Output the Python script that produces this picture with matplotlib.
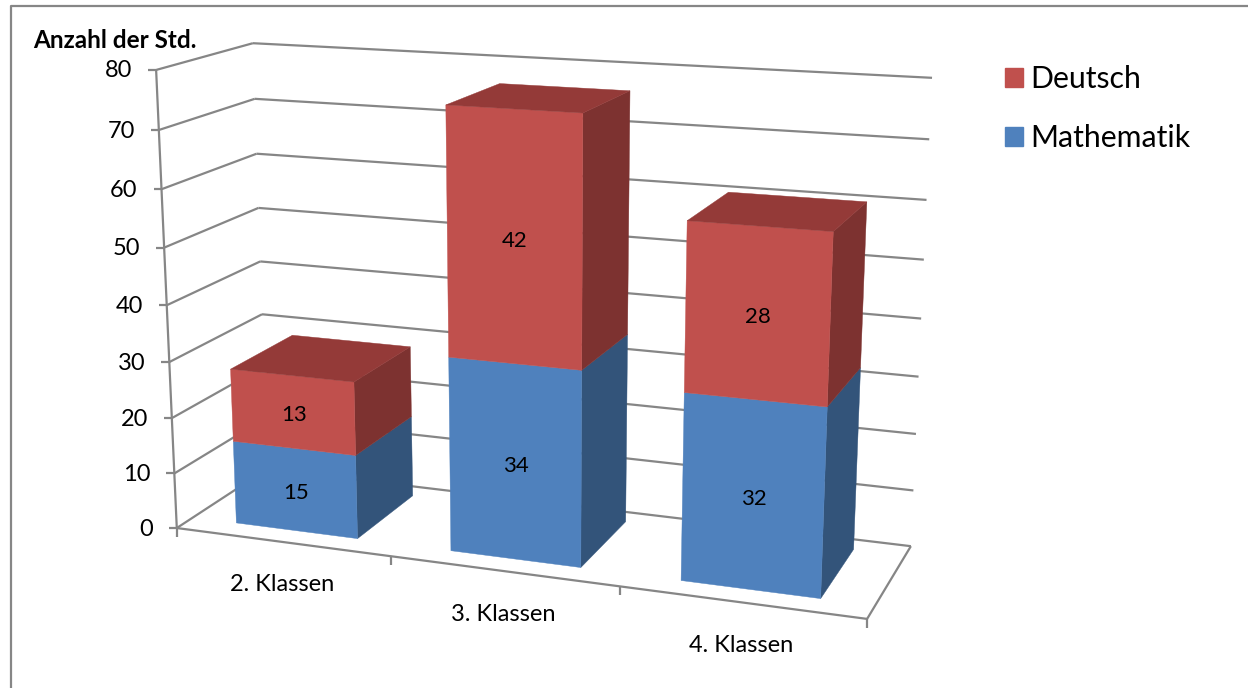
import numpy as np
import matplotlib
matplotlib.use("Agg")
import matplotlib.pyplot as plt
from matplotlib.patches import Polygon, Patch

plt.rcParams['font.family'] = ['Lato', 'DejaVu Sans']

categories = ["2. Klassen", "3. Klassen", "4. Klassen"]
mathematik = [15, 34, 32]
deutsch = [13, 42, 28]
y_ticks = [0, 10, 20, 30, 40, 50, 60, 70, 80]
y_max = 80

BLUE, BLUE_SIDE = "#4F81BD", "#33547A"
RED, RED_SIDE, RED_TOP = "#C0504D", "#7D3230", "#943A38"
GRID = "#868686"

# where the corners of the 3d box land on the picture (u, v, z) -> pixel
box_3d = [(0, 0, 0), (1, 0, 0), (1, 1, 0), (0, 1, 0), (0, 0, 1), (0, 1, 1), (1, 1, 1)]
box_px = [(177, 527), (867, 620), (911, 545), (267, 470), (156, 70), (253, 43), (932, 78)]


def fit_camera():
    rows, rhs = [], []
    for (u, v, z), (px, py) in zip(box_3d, box_px):
        rows.append([u, v, z, 1, 0, 0, 0, 0, -px*u, -px*v, -px*z])
        rows.append([0, 0, 0, 0, u, v, z, 1, -py*u, -py*v, -py*z])
        rhs += [px, py]
    m = np.linalg.lstsq(np.array(rows, float), np.array(rhs, float), rcond=None)[0]
    return np.append(m, 1).reshape(3, 4)


P = fit_camera()


def proj(u, v, val):
    p = P @ np.array([u, v, val / y_max, 1.0])
    return p[0] / p[2], p[1] / p[2]


fig = plt.figure(figsize=(12.48, 6.88), dpi=100)
ax = fig.add_axes([0, 0, 1, 1])
ax.set_xlim(0, 1248)
ax.set_ylim(688, 0)
ax.axis("off")

# outer frame, only left and top are inside the picture
ax.plot([11, 11, 1248], [688, 6, 6], color=GRID, lw=1.6)


def line(a, b):
    ax.plot([a[0], b[0]], [a[1], b[1]], color=GRID, lw=1.6, solid_capstyle="butt")


# walls
for t in y_ticks:
    line(proj(0, 0, t), proj(0, 1, t))
    line(proj(0, 1, t), proj(1, 1, t))
    f = proj(0, 0, t)
    line((f[0] - 8, f[1]), f)
    ax.text(f[0] - 24, f[1] + 1, str(t), ha="right", va="center", fontsize=17, color="black")
line(proj(0, 0, 0), proj(0, 0, y_max))
line(proj(0, 0, 0), proj(1, 0, 0))
line(proj(1, 0, 0), proj(1, 1, 0))

# category ticks and labels
n = len(categories)
for i in range(n + 1):
    f = proj(i / n, 0, 0)
    line(f, (f[0], f[1] + 9))
for i, c in enumerate(categories):
    f = proj((i + 0.5) / n, 0, 0)
    ax.text(f[0], f[1] + 43, c, ha="center", va="center", fontsize=17, color="black")


def face(pts, color):
    ax.add_patch(Polygon(pts, closed=True, facecolor=color, edgecolor=color, lw=0.3, zorder=3))


# stacked bars
left, right = 0.21, 0.783
v0, v1 = 0.17, 0.86
for i in range(n):
    u0 = (i + left) / n
    u1 = (i + right) / n
    base = 0
    for val, col, side in ((mathematik[i], BLUE, BLUE_SIDE), (deutsch[i], RED, RED_SIDE)):
        top = base + val
        face([proj(u1, v0, base), proj(u1, v1, base), proj(u1, v1, top), proj(u1, v0, top)], side)
        face([proj(u0, v0, base), proj(u1, v0, base), proj(u1, v0, top), proj(u0, v0, top)], col)
        c = proj((u0 + u1) / 2, v0, base + val / 2)
        ax.text(c[0] + 1, c[1] + 3, str(val), ha="center", va="center", fontsize=16, color="black", zorder=4)
        base = top
    face([proj(u0, v0, base), proj(u1, v0, base), proj(u1, v1, base), proj(u0, v1, base)], RED_TOP)

ax.text(33, 41, "Anzahl der Std.", ha="left", va="center", fontsize=17.5, fontweight="bold", color="black")

handles = [Patch(color=RED, label="Deutsch"), Patch(color=BLUE, label="Mathematik")]
ax.legend(handles=handles, loc="upper left", bbox_to_anchor=(1005 / 1248, 1 - 65 / 688), frameon=False,
          fontsize=21.8, handlelength=0.6, handleheight=0.6, handletextpad=0.22,
          labelspacing=1.03, borderpad=0, borderaxespad=0)

fig.savefig("out.png", dpi=100)
